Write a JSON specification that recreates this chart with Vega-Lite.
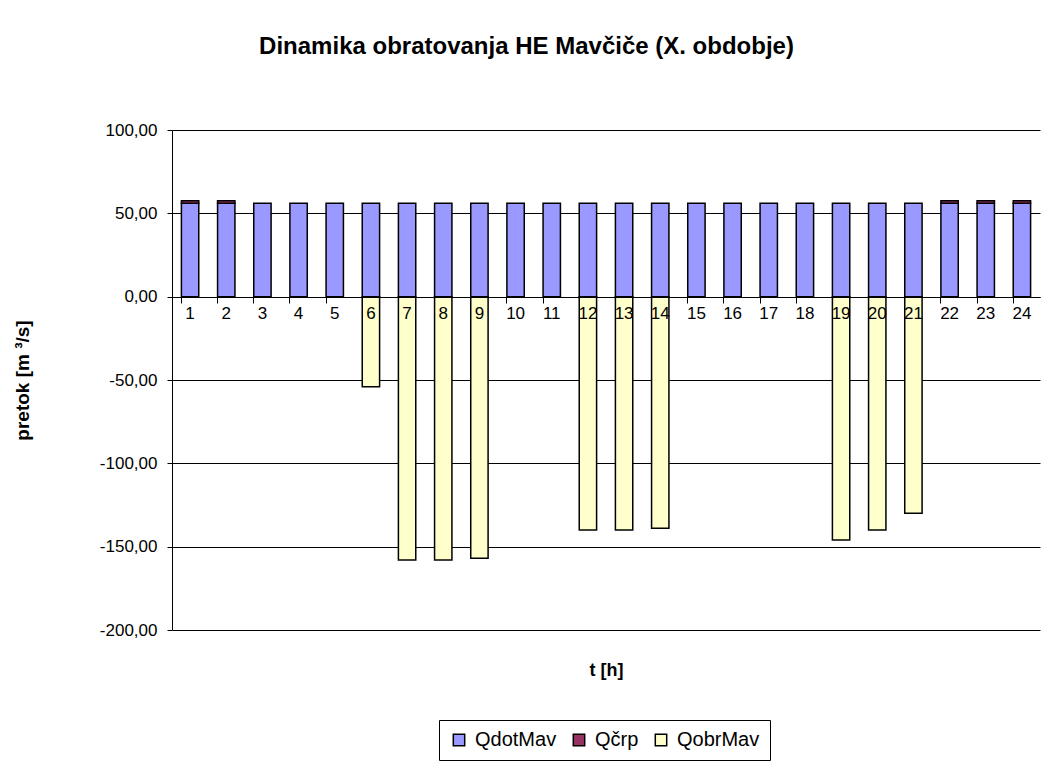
{
  "$schema": "https://vega.github.io/schema/vega-lite/v6.json",
  "width": 868,
  "height": 500,
  "autosize": "none",
  "padding": {"left": 172, "top": 130, "right": 13, "bottom": 137},
  "background": "white",
  "title": {
    "text": "Dinamika obratovanja HE Mavčiče (X. obdobje)",
    "font": "Liberation Sans",
    "fontSize": 24,
    "fontWeight": "bold",
    "color": "black",
    "anchor": "middle",
    "frame": "bounds",
    "offset": 62
  },
  "config": {
    "view": {"stroke": null},
    "font": "Liberation Sans"
  },
  "data": {
    "values": [
      {"hour": 1, "series": "QdotMav", "value": 56},
      {"hour": 2, "series": "QdotMav", "value": 56},
      {"hour": 3, "series": "QdotMav", "value": 56},
      {"hour": 4, "series": "QdotMav", "value": 56},
      {"hour": 5, "series": "QdotMav", "value": 56},
      {"hour": 6, "series": "QdotMav", "value": 56},
      {"hour": 7, "series": "QdotMav", "value": 56},
      {"hour": 8, "series": "QdotMav", "value": 56},
      {"hour": 9, "series": "QdotMav", "value": 56},
      {"hour": 10, "series": "QdotMav", "value": 56},
      {"hour": 11, "series": "QdotMav", "value": 56},
      {"hour": 12, "series": "QdotMav", "value": 56},
      {"hour": 13, "series": "QdotMav", "value": 56},
      {"hour": 14, "series": "QdotMav", "value": 56},
      {"hour": 15, "series": "QdotMav", "value": 56},
      {"hour": 16, "series": "QdotMav", "value": 56},
      {"hour": 17, "series": "QdotMav", "value": 56},
      {"hour": 18, "series": "QdotMav", "value": 56},
      {"hour": 19, "series": "QdotMav", "value": 56},
      {"hour": 20, "series": "QdotMav", "value": 56},
      {"hour": 21, "series": "QdotMav", "value": 56},
      {"hour": 22, "series": "QdotMav", "value": 56},
      {"hour": 23, "series": "QdotMav", "value": 56},
      {"hour": 24, "series": "QdotMav", "value": 56},
      {"hour": 1, "series": "Qčrp", "value": 1.5},
      {"hour": 2, "series": "Qčrp", "value": 1.5},
      {"hour": 22, "series": "Qčrp", "value": 1.5},
      {"hour": 23, "series": "Qčrp", "value": 1.5},
      {"hour": 24, "series": "Qčrp", "value": 1.5},
      {"hour": 6, "series": "QobrMav", "value": -54},
      {"hour": 7, "series": "QobrMav", "value": -158},
      {"hour": 8, "series": "QobrMav", "value": -158},
      {"hour": 9, "series": "QobrMav", "value": -157},
      {"hour": 12, "series": "QobrMav", "value": -140},
      {"hour": 13, "series": "QobrMav", "value": -140},
      {"hour": 14, "series": "QobrMav", "value": -139},
      {"hour": 19, "series": "QobrMav", "value": -146},
      {"hour": 20, "series": "QobrMav", "value": -140},
      {"hour": 21, "series": "QobrMav", "value": -130}
    ]
  },
  "mark": {"type": "bar", "stroke": "black", "strokeWidth": 1.5, "opacity": 1},
  "encoding": {
    "x": {
      "field": "hour",
      "type": "ordinal",
      "scale": {"paddingInner": 0.52, "paddingOuter": 0.26},
      "axis": {
        "orient": "bottom",
        "offset": -333,
        "zindex": 1,
        "labelAngle": 0,
        "labelFont": "Liberation Sans",
        "labelFontSize": 17,
        "labelColor": "black",
        "labelPadding": 2,
        "domainColor": "black",
        "tickColor": "black",
        "tickSize": 6,
        "bandPosition": 0,
        "title": "t [h]",
        "titleFont": "Liberation Sans",
        "titleFontSize": 18,
        "titleFontWeight": "bold",
        "titleColor": "black",
        "titleX": 434,
        "titleY": 373,
        "titleBaseline": "middle",
        "titleAlign": "center"
      }
    },
    "y": {
      "field": "value",
      "type": "quantitative",
      "stack": "zero",
      "scale": {"domain": [-200, 100], "nice": false, "zero": false},
      "axis": {
        "values": [-200, -150, -100, -50, 0, 50, 100],
        "labelExpr": "replace(replace(format(datum.value, '.2f'), '.', ','), '−', '-')",
        "labelFont": "Liberation Sans",
        "labelFontSize": 17,
        "labelColor": "black",
        "labelPadding": 10,
        "grid": true,
        "gridColor": "black",
        "gridOpacity": 1,
        "domainColor": "black",
        "tickColor": "black",
        "tickSize": 5,
        "title": "pretok [m ³/s]",
        "titleFont": "Liberation Sans",
        "titleFontSize": 19,
        "titleFontWeight": "bold",
        "titleColor": "black",
        "titleX": -150,
        "titleY": 250,
        "titleAngle": -90,
        "titleAlign": "center",
        "titleBaseline": "middle"
      }
    },
    "color": {
      "field": "series",
      "type": "nominal",
      "scale": {"domain": ["QdotMav", "Qčrp", "QobrMav"], "range": ["#9999FF", "#993366", "#FFFFCC"]},
      "legend": {
        "title": null,
        "orient": "none",
        "direction": "horizontal",
        "legendX": 267,
        "legendY": 590,
        "strokeColor": "black",
        "fillColor": "white",
        "padding": 10,
        "symbolType": "square",
        "symbolSize": 130,
        "symbolStrokeColor": "black",
        "symbolStrokeWidth": 1.5,
        "symbolOpacity": 1,
        "labelFont": "Liberation Sans",
        "labelFontSize": 20,
        "labelColor": "black",
        "columnPadding": 12,
        "labelOffset": 6
      }
    },
    "order": {"field": "series", "sort": "ascending"}
  }
}
